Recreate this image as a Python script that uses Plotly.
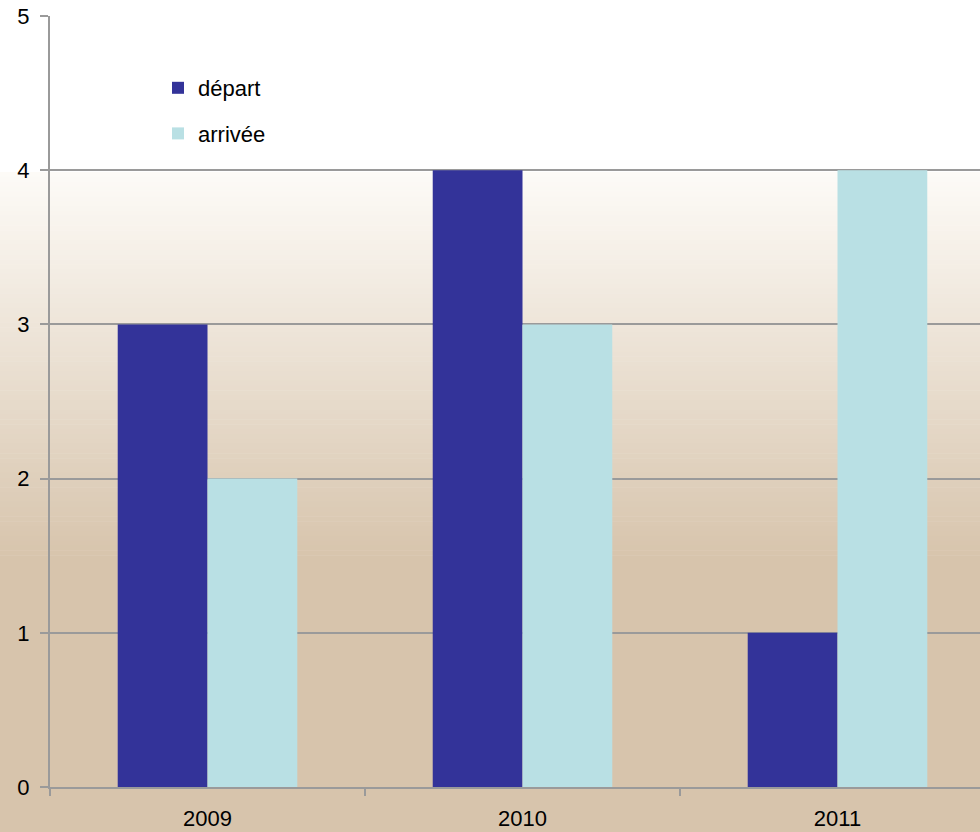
import plotly.graph_objects as go

years = ["2009", "2010", "2011"]
depart = [3, 4, 1]
arrivee = [2, 3, 4]
series_names = ["départ", "arrivée"]
y_ticks = [0, 1, 2, 3, 4, 5]

W, H = 980, 832
ML, MR, MT, MB = 50, 0, 16, 45
plot_h = H - MT - MB
plot_w = W - ML - MR

FONT = "Liberation Sans Narrow, Arial Narrow, Liberation Sans, sans-serif"
GRID = "#9a9a9a"
DARK = "#333399"
LIGHT = "#b9e0e4"

fig = go.Figure()
fig.add_trace(go.Bar(x=years, y=depart, name=series_names[0], marker=dict(color=DARK, line=dict(width=0)),
                     legendgroup="a"))
fig.add_trace(go.Bar(x=years, y=arrivee, name=series_names[1], marker=dict(color=LIGHT, line=dict(width=0)),
                     legendgroup="b"))

# background gradient (page), drawn as thin strips in paper coordinates
def py2paper(py):
    return (H - MB - py) / plot_h

top_c = (253, 251, 247)
bot_c = (215, 196, 172)
g0, g1 = 172, 560
shapes = []
shapes.append(dict(type="rect", xref="paper", yref="paper", x0=-0.2, x1=1.2,
                   y0=py2paper(g0), y1=py2paper(-5), fillcolor="white", line=dict(width=0), layer="below"))
shapes.append(dict(type="rect", xref="paper", yref="paper", x0=-0.2, x1=1.2,
                   y0=py2paper(H + 5), y1=py2paper(g1), fillcolor="rgb(%d,%d,%d)" % bot_c,
                   line=dict(width=0), layer="below"))
n = 80
step = (g1 - g0) / n
for i in range(n):
    t = (i + 0.5) / n
    c = tuple(round(top_c[k] + (bot_c[k] - top_c[k]) * t) for k in range(3))
    shapes.append(dict(type="rect", xref="paper", yref="paper", x0=-0.2, x1=1.2,
                       y0=py2paper(g0 + (i + 1) * step + 0.5), y1=py2paper(g0 + i * step),
                       fillcolor="rgb(%d,%d,%d)" % c, line=dict(width=0), layer="below"))

x_end = -0.5 + plot_w / 315.0

fig.update_layout(
    width=W, height=H,
    margin=dict(l=ML, r=MR, t=MT, b=MB),
    paper_bgcolor="white",
    plot_bgcolor="rgba(0,0,0,0)",
    barmode="group", bargap=0.43, bargroupgap=0,
    font=dict(family=FONT, size=22, color="black"),
    shapes=shapes,
    showlegend=True,
    legend=dict(x=(158 - ML) / plot_w, y=py2paper(67), xanchor="left", yanchor="top",
                bgcolor="rgba(0,0,0,0)", font=dict(family=FONT, size=22, color="black"),
                traceorder="grouped", tracegroupgap=14),
    xaxis=dict(type="category", range=[-0.5, x_end], showline=True, linecolor=GRID, linewidth=2,
               ticks="outside", tickson="boundaries", ticklen=7, tickwidth=2, tickcolor=GRID,
               showgrid=False, tickfont=dict(family=FONT, size=22), ticklabelstandoff=11,
               fixedrange=True),
    yaxis=dict(range=[0, 5], tickvals=y_ticks, showline=True, linecolor=GRID, linewidth=2,
               ticks="outside", ticklen=8, tickwidth=2, tickcolor=GRID, showgrid=True,
               gridcolor=GRID, gridwidth=2, zeroline=False, ticklabelstandoff=6,
               tickfont=dict(family=FONT, size=22), fixedrange=True),
)

fig.write_html("out.html", config={"displayModeBar": False},
               post_script="document.body.style.margin='0';document.body.style.overflow='hidden';")
